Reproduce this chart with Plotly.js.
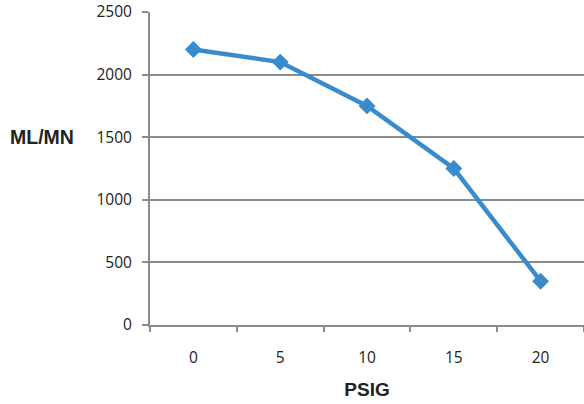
<!DOCTYPE html>
<html><head><meta charset="utf-8">
<script src="https://cdn.plot.ly/plotly-3.0.1.min.js"></script>
<style>html,body{margin:0;padding:0;background:#fff}#c{width:584px;height:404px}</style>
</head><body><div id="c"></div>
<script>
var categories = ['0','5','10','15','20'];
var flowValues = [2200, 2100, 1750, 1250, 350];
var yTicks = [0, 500, 1000, 1500, 2000, 2500];
var xTitle = 'PSIG';
var yTitle = 'ML/MN';

var gray = '#878c91';
var trace = {
  x: categories, y: flowValues, type: 'scatter', mode: 'lines+markers',
  line: {color: '#3a8bcb', width: 4.5},
  marker: {symbol: 'diamond', size: 13, color: '#3a8bcb'},
  hoverinfo: 'skip'
};
var layout = {
  width: 584, height: 404,
  margin: {l: 150, r: 0, t: 12, b: 79},
  paper_bgcolor: '#fff', plot_bgcolor: '#fff',
  showlegend: false,
  xaxis: {
    type: 'category', range: [-0.5, 4.5], tickson: 'boundaries',
    showgrid: false, showline: true, linecolor: gray, linewidth: 2,
    ticks: 'outside', ticklen: 5, tickwidth: 2, tickcolor: gray,
    ticklabelstandoff: 17,
    tickfont: {family: 'Open Sans', size: 15.5, color: '#222'},
    title: {text: '<b>' + xTitle + '</b>', standoff: 16, font: {family: 'Liberation Sans', size: 19, color: '#222'}},
    fixedrange: true
  },
  yaxis: {
    range: [0, 2500], tickvals: yTicks, showgrid: true, gridcolor: gray, gridwidth: 2,
    zeroline: false, showline: true, linecolor: gray, linewidth: 2,
    ticks: 'outside', ticklen: 6, tickwidth: 2, tickcolor: gray,
    ticklabelstandoff: 7,
    tickfont: {family: 'Open Sans', size: 15.5, color: '#222'},
    fixedrange: true
  },
  annotations: [{
    text: '<b>' + yTitle + '</b>', xref: 'paper', yref: 'paper',
    x: -0.248, y: 0.6, xanchor: 'center', yanchor: 'middle', showarrow: false,
    font: {family: 'Liberation Sans', size: 19.5, color: '#222'}
  }]
};
Plotly.newPlot('c', [trace], layout, {displayModeBar: false, staticPlot: true});
</script></body></html>
